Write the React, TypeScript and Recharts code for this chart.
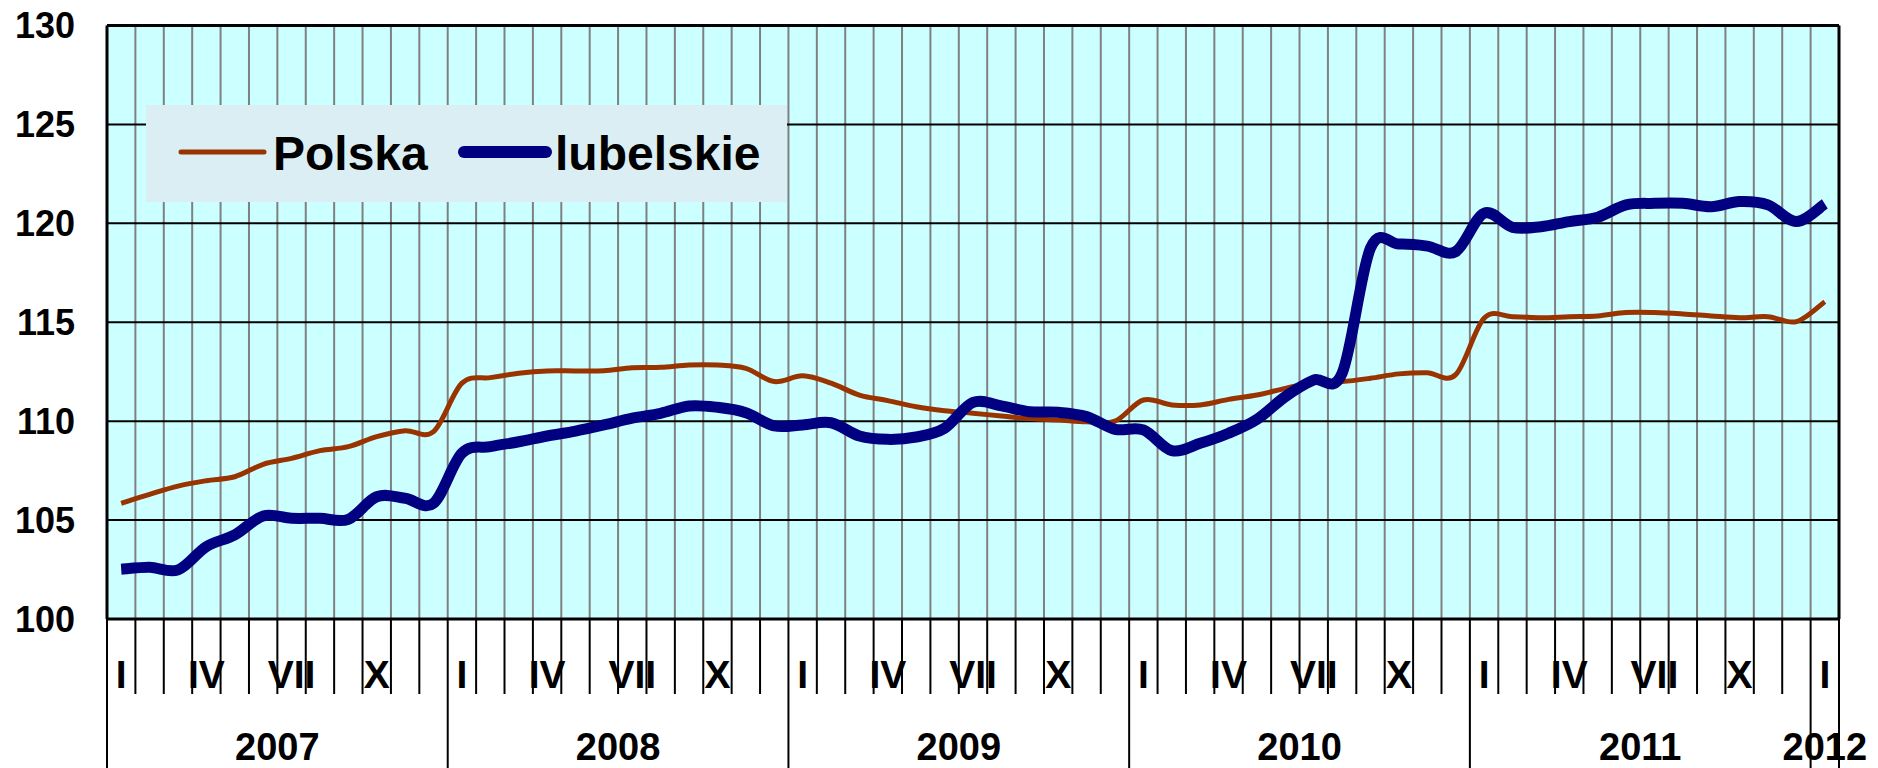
import { LineChart, Line, XAxis, YAxis, CartesianGrid, ReferenceLine } from 'recharts';

const FONT = '"Liberation Sans", Arial, sans-serif';

const monthLabels = [
  'I', '', '', 'IV', '', '', 'VII', '', '', 'X', '', '',
  'I', '', '', 'IV', '', '', 'VII', '', '', 'X', '', '',
  'I', '', '', 'IV', '', '', 'VII', '', '', 'X', '', '',
  'I', '', '', 'IV', '', '', 'VII', '', '', 'X', '', '',
  'I', '', '', 'IV', '', '', 'VII', '', '', 'X', '', '',
  'I',
];
const yearLabels = ['2007', '2008', '2009', '2010', '2011', '2012'];

const polska = [
  105.85, 106.3, 106.72, 106.99, 107.19, 107.82, 108.12, 108.51, 108.71, 109.22, 109.52, 109.47,
  111.92, 112.2, 112.42, 112.54, 112.54, 112.55, 112.7, 112.72, 112.84, 112.84, 112.67, 112.0,
  112.29, 111.92, 111.32, 111.04, 110.73, 110.53, 110.4, 110.26, 110.13, 110.06, 109.97, 110.0,
  111.07, 110.82, 110.82, 111.1, 111.32, 111.66, 111.95, 112.0, 112.17, 112.39, 112.45, 112.35,
  115.2, 115.28, 115.23, 115.28, 115.32, 115.49, 115.49, 115.42, 115.32, 115.23, 115.28, 115.03,
  116.04,
];
const lubelskie = [
  102.51, 102.61, 102.48, 103.66, 104.25, 105.21, 105.09, 105.09, 105.04, 106.18, 106.1, 105.85,
  108.38, 108.71, 108.96, 109.25, 109.5, 109.81, 110.15, 110.4, 110.77, 110.7, 110.43, 109.76,
  109.81, 109.92, 109.25, 109.08, 109.2, 109.64, 110.95, 110.77, 110.48, 110.45, 110.23, 109.59,
  109.56, 108.51, 108.88, 109.39, 110.09, 111.24, 112.08, 112.42, 118.75, 118.95, 118.85, 118.57,
  120.51, 119.8, 119.83, 120.09, 120.31, 120.93, 121.01, 121.01, 120.84, 121.1, 120.93, 120.09,
  120.98,
];
const yTicks = [100, 105, 110, 115, 120, 125, 130];

const N = monthLabels.length;
const rows = monthLabels.map((_, i) => ({ pos: i + 0.5, polska: polska[i], lubelskie: lubelskie[i] }));
const boundaries = Array.from({ length: N + 1 }, (_, i) => i);

const W = 1878;
const H = 768;
const LEFT = 107;
const RIGHT = 39;
const PLOT_W = W - LEFT - RIGHT;

// smoothed line like the spreadsheet one (cardinal spline, tension 0)
function smoothCurve(context: any) {
  let pts: number[][] = [];
  return {
    areaStart() {},
    areaEnd() {},
    lineStart() {
      pts = [];
    },
    point(x: number, y: number) {
      pts.push([+x, +y]);
    },
    lineEnd() {
      if (!pts.length) return;
      context.moveTo(pts[0][0], pts[0][1]);
      for (let i = 0; i < pts.length - 1; i++) {
        const p0 = pts[i - 1] || pts[i];
        const p1 = pts[i];
        const p2 = pts[i + 1];
        const p3 = pts[i + 2] || p2;
        context.bezierCurveTo(
          p1[0] + (p2[0] - p0[0]) / 6, p1[1] + (p2[1] - p0[1]) / 6,
          p2[0] - (p3[0] - p1[0]) / 6, p2[1] - (p3[1] - p1[1]) / 6,
          p2[0], p2[1],
        );
      }
    },
  };
}

function BoundaryTick(props: any) {
  const { x, y, payload } = props;
  const i = payload.value as number;
  const band = PLOT_W / N;
  const isYear = i % 12 === 0 || i === N;
  const month = i < N ? monthLabels[i] : '';
  const yi = i % 12 === 0 && i < N ? i / 12 : -1;
  const yearX = i + 12 > N ? x + band / 2 : x + band * 6;
  return (
    <g>
      <line x1={x} x2={x} y1={y} y2={y + (isYear ? 160 : 75)} stroke="#000" strokeWidth={2} />
      {month && (
        <text x={x + band / 2} y={y + 69} textAnchor="middle" fontSize={39} fontWeight="bold" fontFamily={FONT} fill="#000">
          {month}
        </text>
      )}
      {yi >= 0 && (
        <text x={yearX} y={y + 141} textAnchor="middle" fontSize={38} fontWeight="bold" fontFamily={FONT} fill="#000">
          {yearLabels[yi]}
        </text>
      )}
    </g>
  );
}

function LegendBox() {
  return (
    <svg width={641} height={97} style={{ position: 'absolute', left: 146, top: 105 }}>
      <rect x={0} y={0} width={641} height={97} fill="#DAEEF3" />
      <line x1={35} x2={118} y1={47} y2={47} stroke="#993300" strokeWidth={5} strokeLinecap="round" />
      <text x={127} y={65} fontSize={48} fontWeight="bold" fontFamily={FONT} fill="#000">Polska</text>
      <line x1={318} x2={400} y1={47} y2={47} stroke="#000080" strokeWidth={12} strokeLinecap="round" />
      <text x={409} y={65} fontSize={48} fontWeight="bold" fontFamily={FONT} fill="#000">lubelskie</text>
    </svg>
  );
}

export default function App() {
  return (
    <div style={{ position: 'absolute', left: 0, top: 0, width: W, height: H, background: '#fff' }}>
      <LineChart width={W} height={H} data={rows} margin={{ top: 25.5, right: RIGHT, bottom: 0, left: 0 }}>
        <CartesianGrid horizontal={false} stroke="#808080" strokeWidth={2} fill="#CCFFFF" fillOpacity={1} />
        <CartesianGrid vertical={false} stroke="#000" strokeWidth={2} />
        <XAxis
          dataKey="pos"
          type="number"
          domain={[0, N]}
          ticks={boundaries}
          interval={0}
          height={149}
          axisLine={false}
          tickLine={false}
          tickSize={0}
          tickMargin={0}
          tick={BoundaryTick}
        />
        <YAxis
          domain={[100, 130]}
          ticks={yTicks}
          interval={0}
          width={LEFT}
          axisLine={false}
          tickLine={false}
          tickSize={0}
          tickMargin={32}
          tick={{ fontSize: 36, fontWeight: 'bold', fontFamily: FONT, fill: '#000' }}
        />
        <ReferenceLine x={0} stroke="#000" strokeWidth={3} />
        <ReferenceLine x={N} stroke="#000" strokeWidth={3} />
        <ReferenceLine y={130} stroke="#000" strokeWidth={3} />
        <ReferenceLine y={100} stroke="#000" strokeWidth={3} />
        <Line type={smoothCurve as any} dataKey="polska" stroke="#993300" strokeWidth={5} dot={false} isAnimationActive={false} />
        <Line type={smoothCurve as any} dataKey="lubelskie" stroke="#000080" strokeWidth={11} dot={false} isAnimationActive={false} />
      </LineChart>
      <LegendBox />
    </div>
  );
}
